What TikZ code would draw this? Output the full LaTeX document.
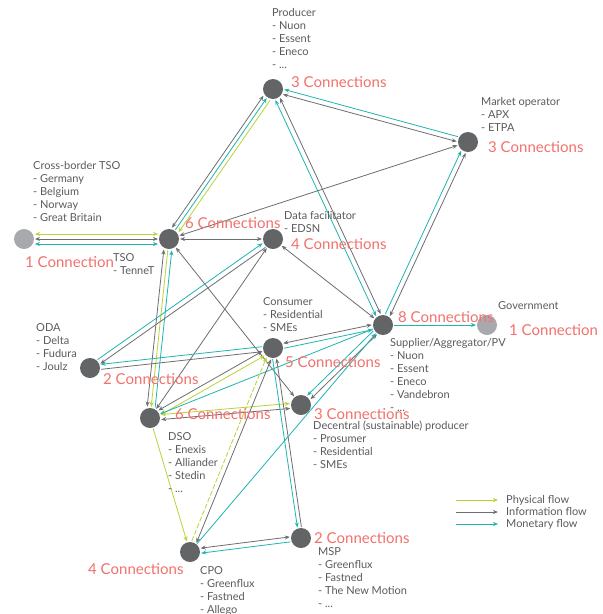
\documentclass[tikz,border=0pt]{standalone}
\usepackage{fontspec}
\setmainfont{Lato}
\usetikzlibrary{calc,arrows.meta}
\definecolor{cgray}{HTML}{636466}
\definecolor{lgray}{HTML}{A7A9AC}
\definecolor{txtc}{HTML}{5A5B5D}
\definecolor{conred}{HTML}{F3716C}
\definecolor{tealc}{HTML}{1FB5B0}
\definecolor{greenc}{HTML}{B8D435}
\definecolor{grayc}{HTML}{6D6E71}
\newcommand\flow[4][]{\draw[#1] ($(#2.center)!#4!90:(#3.center)$) -- ($(#3.center)!#4!-90:(#2.center)$);}
\tikzset{
 actor/.style={circle,fill=cgray,minimum size=20pt,inner sep=0pt},
 extactor/.style={circle,fill=lgray,minimum size=20pt,inner sep=0pt},
 desc/.style={anchor=north west,align=left,inner sep=0pt,text=txtc,font=\fontsize{11}{13}\selectfont},
 conn/.style={anchor=west,inner sep=0pt,text=conred,font=\fontsize{15}{18}\selectfont},
 fl/.style={line width=0.8pt,shorten >=11pt,shorten <=11pt},
 phys/.style={fl,draw=greenc},
 info/.style={fl,draw=grayc},
 mon/.style={fl,draw=tealc},
 legline/.style={line width=0.8pt,->},
}
\begin{document}
\begin{tikzpicture}[x=1pt,y=-1pt,>={Stealth[length=5pt,width=4pt]}]
\useasboundingbox[fill=white] (0,0) rectangle (603,614);
% actors
\node[actor] (p) at (273,89) {};
\node[actor] (mo) at (468,142) {};
\node[extactor] (cb) at (24,239) {};
\node[actor] (tso) at (169,239) {};
\node[actor] (df) at (273,239) {};
\node[actor] (oda) at (90,368) {};
\node[actor] (c) at (273,348) {};
\node[actor] (s) at (383,325) {};
\node[extactor] (g) at (487,325) {};
\node[actor] (dso) at (150,418) {};
\node[actor] (dp) at (301,405) {};
\node[actor] (cpo) at (190,552) {};
\node[actor] (msp) at (301,538) {};
% flows
\flow[phys,<->]{cb}{tso}{5pt}
\flow[info,<->]{cb}{tso}{0pt}
\flow[mon,<->]{cb}{tso}{-5pt}
\flow[info,<->]{tso}{p}{4pt}
\flow[mon,->]{tso}{p}{0pt}
\flow[phys,<-]{tso}{p}{-4pt}
\flow[mon,<-]{p}{mo}{2.5pt}
\flow[info,<->]{p}{mo}{-2.5pt}
\flow[info,<->]{p}{s}{2.5pt}
\flow[mon,<->]{p}{s}{-2.5pt}
\flow[mon,->]{s}{mo}{2.5pt}
\flow[info,<->]{s}{mo}{-2.5pt}
\flow[info,<->]{tso}{mo}{0pt}
\flow[info,<->]{tso}{df}{0pt}
\flow[mon,<-]{tso}{dso}{4pt}
\flow[phys,->]{tso}{dso}{0pt}
\flow[info,<->]{tso}{dso}{-4pt}
\flow[info,<->]{tso}{dp}{0pt}
\flow[mon,->]{oda}{df}{2.5pt}
\flow[info,<-]{oda}{df}{-2.5pt}
\flow[info,<->]{dso}{df}{0pt}
\flow[info,<->]{df}{s}{0pt}
\flow[mon,<-]{oda}{c}{2.5pt}
\flow[info,->]{oda}{c}{-2.5pt}
\flow[info,<->]{c}{s}{2.5pt}
\flow[mon,->]{c}{s}{-2.5pt}
\flow[info,<->]{dso}{c}{2.5pt}
\flow[phys,<->]{dso}{c}{-2.5pt}
\flow[mon,<-]{dso}{s}{0pt}
\flow[phys,<->]{dso}{dp}{2.5pt}
\flow[info,<->]{dso}{dp}{-2.5pt}
\flow[phys,->]{dso}{cpo}{0pt}
\flow[info,<->]{s}{dp}{2.5pt}
\flow[mon,->]{s}{dp}{-2.5pt}
\flow[mon,->]{s}{g}{0pt}
\flow[phys,->,dash pattern=on 5pt off 2pt]{cpo}{c}{2.5pt}
\flow[info,<->]{cpo}{c}{-2.5pt}
\flow[info,<-]{c}{msp}{2pt}
\flow[mon,->]{c}{msp}{-2pt}
\flow[info,<->]{cpo}{msp}{2.5pt}
\flow[mon,<-]{cpo}{msp}{-2.5pt}
\flow[mon,->]{cpo}{s}{0pt}
% descriptions
\node[desc] (tp) at (272,8) {Producer\\- Nuon\\- Essent\\- Eneco\\- ...};
\node[desc] (tmo) at (481,97) {Market operator\\- APX\\- ETPA};
\node[desc] (tcb) at (33,161) {Cross-border TSO\\- Germany\\- Belgium\\- Norway\\- Great Britain};
\node[desc] (ttso) at (113,253) {TSO\\- TenneT};
\node[desc] (tdf) at (284,211) {Data facilitator\\- EDSN};
\node[desc] (toda) at (36,323) {ODA\\- Delta\\- Fudura\\- Joulz};
\node[desc] (tc) at (263,297) {Consumer\\- Residential\\- SMEs};
\node[desc] (ts) at (390,338) {Supplier/Aggregator/PV\\- Nuon\\- Essent\\- Eneco\\- Vandebron\\- ...};
\node[desc] (tg) at (498,301) {Government};
\node[desc] (tdso) at (168,432) {DSO\\- Enexis\\- Alliander\\- Stedin\\- ...};
\node[desc] (tdp) at (313,421) {Decentral (sustainable) producer\\- Prosumer\\- Residential\\- SMEs};
\node[desc] (tmsp) at (318,547) {MSP\\- Greenflux\\- Fastned\\- The New Motion\\- ...};
\node[desc] (tcpo) at (200,566) {CPO\\- Greenflux\\- Fastned\\- Allego};
% connection counts
\node[conn] (np) at (291,82) {3 Connections};
\node[conn] (nmo) at (488,147) {3 Connections};
\node[conn] (ncb) at (25,262) {1 Connection};
\node[conn] (ntso) at (185,223) {6 Connections};
\node[conn] (ndf) at (291,244) {4 Connections};
\node[conn] (noda) at (103,379) {2 Connections};
\node[conn] (nc) at (285,362) {5 Connections};
\node[conn] (ns) at (398,317) {8 Connections};
\node[conn] (ng) at (509,330) {1 Connection};
\node[conn] (ndso) at (175,414) {6 Connections};
\node[conn] (ndp) at (314,414) {3 Connections};
\node[conn] (nmsp) at (314,538) {2 Connections};
\node[conn] (ncpo) at (88,569) {4 Connections};
% legend
\coordinate (l1a) at (456,500); \coordinate (l1b) at (498,500);
\coordinate (l2a) at (456,512); \coordinate (l2b) at (498,512);
\coordinate (l3a) at (456,524); \coordinate (l3b) at (498,524);
\draw[legline,draw=greenc] (l1a) -- (l1b);
\draw[legline,draw=grayc] (l2a) -- (l2b);
\draw[legline,draw=tealc] (l3a) -- (l3b);
\node[anchor=west,inner sep=0pt,text=txtc,font=\fontsize{11}{13}\selectfont] (lg1) at (506,500) {Physical flow};
\node[anchor=west,inner sep=0pt,text=txtc,font=\fontsize{11}{13}\selectfont] (lg2) at (506,512) {Information flow};
\node[anchor=west,inner sep=0pt,text=txtc,font=\fontsize{11}{13}\selectfont] (lg3) at (506,524) {Monetary flow};
\end{tikzpicture}
\end{document}
